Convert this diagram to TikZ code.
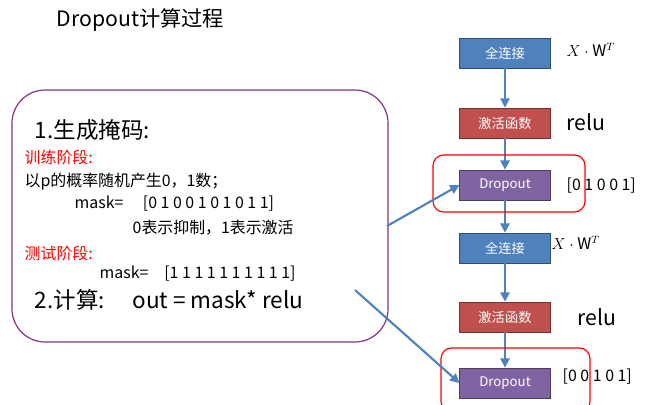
\documentclass[tikz,border=0pt]{standalone}
\usepackage{amsmath}
\usepackage{fontspec}
\setmainfont{Noto Sans CJK SC}
\usetikzlibrary{arrows.meta}
\definecolor{fcblue}{RGB}{79,129,189}
\definecolor{actred}{RGB}{192,80,77}
\definecolor{dropviolet}{RGB}{128,100,162}
\tikzset{
  layer/.style={draw=#1!60!black, fill=#1, text=white, minimum width=2.4cm, minimum height=0.8cm, font=\normalsize},
  flow/.style={-{Triangle[length=7pt,width=7pt]}, draw=fcblue, line width=1.6pt},
  highlight/.style={draw=red, line width=0.9pt, rounded corners=8pt},
  body/.style={anchor=west, font=\fontsize{12}{14}\selectfont}
}
\begin{document}
\begin{tikzpicture}[x=0.0265cm,y=-0.0265cm]
	\useasboundingbox (0,0) rectangle (656,404);

	%title
	\node[anchor=west, font=\fontsize{16}{18}\selectfont] (title) at (52,20) {Dropout计算过程};

	%right column of layers
	\node[layer=fcblue] (fc1) at (505,53) {全连接};
	\node[layer=actred] (act1) at (505,123) {激活函数};
	\node[layer=dropviolet] (drop1) at (505,185) {Dropout};
	\node[layer=fcblue] (fc2) at (505,248) {全连接};
	\node[layer=actred] (act2) at (505,317) {激活函数};
	\node[layer=dropviolet] (drop2) at (505,383) {Dropout};
	\draw[flow] (fc1) -- (act1);
	\draw[flow] (act1) -- (drop1);
	\draw[flow] (drop1) -- (fc2);
	\draw[flow] (fc2) -- (act2);
	\draw[flow] (act2) -- (drop2);
	\draw[highlight] (433,155) rectangle (585,212);
	\draw[highlight] (441,348) rectangle (590,412);

	%labels beside the layers
	\node[anchor=west, font=\large] (w1) at (562,50) {$X\cdot \mathrm{W}^{T}$};
	\node[anchor=west, font=\fontsize{16}{18}\selectfont] (r1) at (562,122) {relu};
	\node[body] (m1) at (562,186) {[0 1 0 0 1]};
	\node[anchor=west, font=\large] (w2) at (547,243) {$X\cdot \mathrm{W}^{T}$};
	\node[anchor=west, font=\fontsize{16}{18}\selectfont] (r2) at (573,317) {relu};
	\node[body] (m2) at (558,377) {[0 0 1 0 1]};

	%explanation box
	\draw[draw=violet!60!gray, line width=0.9pt, rounded corners=25pt] (12,90) rectangle (388,342);
	\coordinate (b1) at (387,226);
	\coordinate (b2) at (355,290);
	\draw[flow] (b1) -- (drop1.west);
	\draw[flow] (b2) -- (drop2.west);
	\node[anchor=west, font=\fontsize{17}{20}\selectfont] (t1) at (30,130) {1.生成掩码:};
	\node[body, text=red] (t2) at (20,157) {训练阶段:};
	\node[body] (t3) at (20,182) {以p的概率随机产生0，1数；};
	\node[body] (t4) at (70,204) {mask=\quad\ [0 1 0 0 1 0 1 0 1 1]};
	\node[body] (t5) at (128,228) {0表示抑制，1表示激活};
	\node[body, text=red] (t6) at (20,253) {测试阶段:};
	\node[body] (t7) at (95,274) {mask=\quad [1 1 1 1 1 1 1 1 1 1]};
	\node[anchor=west, font=\fontsize{17}{20}\selectfont] (t8) at (30,300) {2.计算:\quad\ out = mask* relu};
\end{tikzpicture}
\end{document}
